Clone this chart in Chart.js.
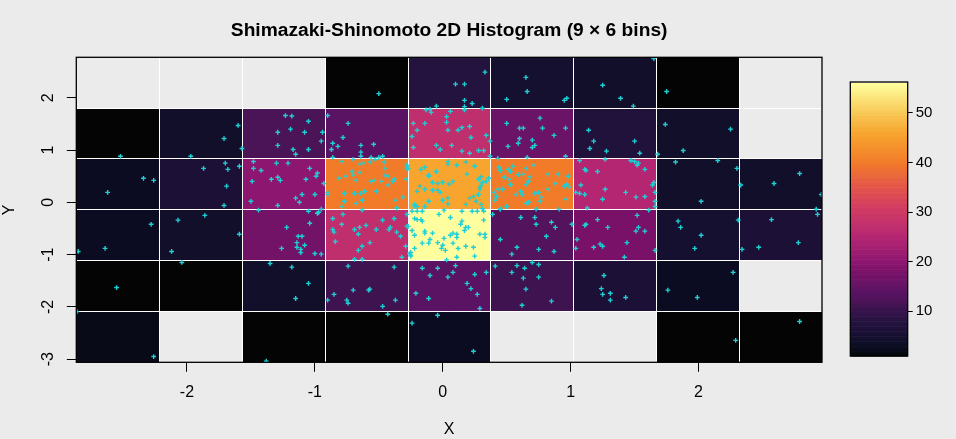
<!DOCTYPE html>
<html><head><meta charset="utf-8">
<script src="https://cdn.jsdelivr.net/npm/chart.js@4.4.1/dist/chart.umd.min.js"></script>
<style>
html,body{margin:0;padding:0;background:#ebebeb;}
#wrap{position:relative;width:956px;height:439px;overflow:hidden;}
canvas{position:absolute;left:0;top:0;}
</style></head><body>
<div id="wrap"><canvas id="main" width="956" height="439"></canvas><canvas id="cbar" width="956" height="439"></canvas></div>
<script>
// ---------- data ----------
const chartTitle = 'Shimazaki-Shinomoto 2D Histogram (9 \u00d7 6 bins)';
const xLabel = 'X';
const yLabel = 'Y';
const xEdges = [-2.865, -2.217, -1.568, -0.919, -0.270, 0.375, 1.020, 1.668, 2.317, 2.965];
const yEdges = [-3.060, -2.088, -1.115, -0.143, 0.830, 1.802, 2.774];
// bin counts, rows from bottom (lowest y) to top, columns left to right
const counts = [
  [2, 0, 1, 1, 3, 0, 0, 1, 1],
  [1, 1, 4, 11, 14, 11, 6, 3, 0],
  [3, 4, 17, 27, 56, 13, 18, 5, 6],
  [3, 6, 20, 40, 46, 40, 25, 4, 4],
  [1, 4, 12, 14, 27, 16, 7, 4, 0],
  [0, 0, 0, 1, 8, 5, 4, 1, 0]
];
const xTicks = [-2, -1, 0, 1, 2];
const yTicks = [-3, -2, -1, 0, 1, 2];
const colorbarTicks = [10, 20, 30, 40, 50];
const countRange = [1, 56];
const points = [
[-2.52,0.88],[-1.97,0.88],[-1.60,1.47],[-1.71,1.22],[-1.57,1.03],
[-1.23,1.66],[-1.18,1.65],[-1.05,1.55],[-1.29,1.34],[-1.19,1.40],[-1.08,1.34],[-0.94,1.34],[-0.95,1.17],[-1.29,1.09],[-1.17,1.01],[-1.05,1.01],[-1.15,0.92],
[-2.34,0.46],[-2.26,0.42],[-2.62,0.19],
[-1.70,0.75],[-1.87,0.65],[-1.68,0.63],[-1.59,0.69],[-1.69,0.31],[-1.71,-0.06],
[-1.48,0.78],[-1.48,0.65],[-1.42,0.61],[-1.30,0.75],[-1.21,0.75],[-1.04,0.65],[-0.98,0.56],[-0.99,0.50],[-0.93,0.36],[-1.49,0.40],[-1.34,0.44],[-1.29,0.48],[-1.27,0.42],[-1.07,0.44],[-1.00,0.15],[-1.10,0.15],[-1.15,0.08],[-1.12,0.00],[-1.50,0.02],[-1.29,-0.06],
[-0.50,2.08],[0.10,2.26],[0.17,2.26],[0.33,2.49],[0.17,1.95],[0.23,1.89],[0.17,1.83],[-0.05,1.84],[0.31,1.80],[0.65,2.39],[0.66,2.12],[0.50,1.97],[0.95,1.95],[0.97,1.99],
[-0.90,1.66],[-0.74,1.51],[-0.78,1.24],[-0.86,1.13],[-0.82,1.07],[-0.87,1.01],[-0.64,1.09],[-0.54,1.11],[-0.64,0.96],[-0.64,0.88],[-0.86,0.86],[-0.56,0.86],[-0.50,0.86],[-0.47,0.88],
[-0.13,1.77],[-0.10,1.78],[-0.09,1.72],[0.17,1.77],[0.03,1.64],[0.06,1.74],[0.03,1.53],[-0.23,1.51],[-0.14,1.51],[-0.20,1.38],[0.04,1.38],[0.12,1.38],[0.15,1.43],[0.21,1.45],[-0.24,1.26],[0.22,1.24],[0.34,1.28],[-0.23,1.05],[-0.05,1.09],[-0.02,1.01],[0.07,1.09],[0.15,0.98],[0.21,0.94],[0.28,0.99],[0.32,0.99],[0.37,1.17],[0.37,0.88],
[0.76,1.61],[0.50,1.51],[0.60,1.42],[0.63,1.42],[0.78,1.42],[0.96,1.42],[0.87,1.28],[0.60,1.22],[0.70,1.19],[0.51,1.07],[0.59,1.13],[0.72,1.09],[0.70,1.05],[0.66,0.86],[0.96,0.88],[0.43,0.84],
[-0.79,0.78],[-0.70,0.82],[-0.53,0.82],[-0.46,0.77],[-0.62,0.75],[-0.65,0.73],[-0.45,0.65],[-0.71,0.59],[-0.65,0.57],[-0.70,0.52],[-0.76,0.50],[-0.81,0.46],[-0.45,0.52],[-0.43,0.50],[-0.68,0.42],[-0.56,0.40],[-0.54,0.42],[-0.48,0.40],[-0.38,0.44],[-0.39,0.40],[-0.43,0.33],[-0.29,0.44],[-0.90,0.19],[-0.90,0.15],[-0.69,0.17],[-0.64,0.17],[-0.61,0.21],[-0.52,0.21],[-0.77,0.02],[-0.68,-0.02],[-0.63,0.04],[-0.37,0.04],[-0.31,0.10],[-0.79,-0.08],[-0.36,-0.11],[-0.28,0.71],[-0.28,0.65],[-0.77,0.17],[-0.57,0.77],
[0.04,0.78],[0.04,0.73],[0.11,0.71],[0.18,0.77],[0.25,0.69],[-0.17,0.63],[-0.14,0.67],[-0.05,0.59],[0.19,0.54],[-0.11,0.52],[-0.11,0.50],[0.28,0.44],[0.31,0.38],[0.34,0.40],[0.36,0.46],[-0.08,0.38],[-0.04,0.36],[0.00,0.38],[0.08,0.40],[-0.18,0.31],[-0.20,0.21],[-0.08,0.23],[-0.04,0.23],[-0.02,0.19],[0.29,0.29],[0.29,0.25],[0.28,0.15],[0.04,0.08],[0.00,0.04],[-0.11,0.02],[0.18,-0.04],[0.26,0.02],[0.30,-0.04],[-0.22,-0.04],[-0.14,-0.08],[0.30,0.49],[-0.14,0.25],[0.05,0.35],[0.30,0.32],[-0.22,-0.07],[-0.20,-0.08],[0.04,-0.03],[0.31,-0.12],[0.21,0.08],[0.24,0.11],[-0.27,0.65],
[0.44,0.67],[0.45,0.61],[0.55,0.69],[0.65,0.65],[0.71,0.71],[0.53,0.59],[0.48,0.48],[0.52,0.44],[0.82,0.54],[0.90,0.54],[0.98,0.50],[0.67,0.40],[0.65,0.34],[0.53,0.34],[0.88,0.36],[0.95,0.31],[0.97,0.34],[0.99,0.29],[0.43,0.25],[0.47,0.25],[0.40,0.19],[0.57,0.15],[0.61,0.21],[0.62,0.15],[0.75,0.19],[0.82,0.25],[0.42,0.11],[0.41,0.04],[0.77,0.10],[0.76,0.02],[0.65,-0.02],[0.67,0.00],[0.50,-0.08],[0.96,0.06],[0.73,-0.13],[0.91,-0.13],[0.45,-0.13],[0.59,0.53],[0.63,0.54],[0.68,0.49],[0.72,0.17],[0.51,0.63],
[1.25,2.24],[1.39,1.99],[1.49,1.84],[1.65,2.75],[1.75,2.12],
[1.14,1.38],[1.18,1.17],[1.15,1.03],[1.28,0.98],[1.50,1.17],[1.54,0.94],
[1.74,1.49],[2.25,1.40],[1.88,0.99],[1.68,0.92],
[1.07,0.80],[1.27,0.82],[1.47,0.80],[1.50,0.78],[1.53,0.75],[1.52,0.71],[1.11,0.63],[1.12,0.61],[1.21,0.59],[1.58,0.63],[1.65,0.38],[1.64,0.33],[1.08,0.33],[1.27,0.25],[1.04,0.19],[1.07,0.17],[1.11,0.15],[1.43,0.19],[1.66,0.19],[1.25,0.06],[1.51,0.10],[1.58,0.11],[1.66,0.02],[1.66,-0.08],[1.13,-0.11],
[1.82,0.77],[2.15,0.80],[2.30,0.65],[2.02,0.02],
[2.59,0.36],[2.79,0.55],[2.33,0.33],[2.96,0.15],
[-2.28,-0.42],[-2.64,-0.88],[-2.85,-0.94],
[-2.07,-0.34],[-1.86,-0.25],[-1.59,-0.61],[-2.12,-0.94],
[-1.44,-0.15],[-1.22,-0.48],[-1.05,-0.17],[-0.97,-0.19],[-0.98,-0.21],[-0.95,-0.13],[-1.04,-0.40],[-1.13,-0.65],[-1.10,-0.65],[-1.14,-0.77],[-1.08,-0.82],[-1.14,-0.86],[-1.11,-0.90],[-1.11,-0.96],[-1.26,-0.88],[-1.00,-0.98],[-0.95,-0.99],
[-2.55,-1.63],[-2.04,-1.15],[-1.35,-1.17],[-1.18,-1.24],[-1.05,-1.55],[-1.15,-1.84],
[-2.26,-2.95],[-2.86,-2.09],[-1.38,-3.04],
[-0.78,-0.23],[-0.63,-0.15],[-0.86,-0.31],[-0.79,-0.42],[-0.86,-0.52],[-0.85,-0.57],[-0.69,-0.52],[-0.65,-0.48],[-0.60,-0.44],[-0.66,-0.61],[-0.52,-0.52],[-0.47,-0.34],[-0.38,-0.31],[-0.42,-0.52],[-0.41,-0.48],[-0.36,-0.57],[-0.33,-0.65],[-0.84,-0.75],[-0.57,-0.77],[-0.63,-0.84],[-0.66,-0.92],[-0.29,-0.84],[-0.32,-1.05],[-0.69,-1.09],[-0.63,-1.09],[-0.28,-0.23],[-0.28,-0.46],
[-0.24,-0.17],[-0.20,-0.17],[-0.16,-0.17],[-0.22,-0.31],[-0.20,-0.33],[-0.17,-0.33],[-0.16,-0.36],[-0.27,-0.46],[-0.24,-0.54],[-0.22,-0.63],[-0.14,-0.55],[-0.08,-0.59],[-0.14,-0.59],[-0.10,-0.71],[-0.11,-0.78],[-0.16,-0.78],[-0.22,-0.88],[-0.25,-0.96],[-0.25,-1.01],[-0.25,-1.03],[-0.26,-0.98],[-0.04,-0.77],[-0.01,-0.88],[0.00,-0.82],[0.02,-0.92],[-0.03,-0.23],[0.01,-0.15],[0.06,-0.29],[0.15,-0.17],[0.23,-0.17],[0.27,-0.17],[0.32,-0.17],[0.15,-0.36],[0.14,-0.42],[0.17,-0.54],[0.18,-0.48],[0.20,-0.48],[0.06,-0.63],[0.08,-0.59],[0.11,-0.61],[0.11,-0.67],[0.01,-0.69],[0.08,-0.78],[0.12,-0.88],[0.18,-0.84],[0.24,-0.86],[0.29,-0.61],[0.33,-0.61],[0.33,-0.67],[0.32,-0.34],[0.25,-1.03],[0.11,-1.05],[0.03,-1.10],
[0.39,-0.23],[0.45,-0.13],[0.61,-0.29],[0.72,-0.29],[0.73,-0.42],[0.85,-0.38],[0.88,-0.48],[1.01,-0.42],[0.81,-0.65],[0.45,-0.71],[0.58,-0.86],[0.75,-0.90],[0.87,-0.94],[0.54,-0.99],
[-0.74,-1.22],[-0.38,-1.24],[-0.85,-1.76],[-0.70,-1.68],[-0.58,-1.68],[-0.57,-1.66],[-0.90,-1.87],[-0.75,-1.87],[-0.74,-1.93],[-0.47,-1.99],[-0.37,-1.87],
[-0.16,-1.26],[-0.04,-1.26],[0.10,-1.21],[-0.10,-1.40],[0.04,-1.43],[0.08,-1.34],[0.25,-1.38],[0.34,-1.34],[0.19,-1.55],[0.22,-1.65],[0.27,-1.76],[-0.21,-1.74],[-0.11,-1.84],[0.29,-2.03],
[0.41,-1.22],[0.54,-1.34],[0.58,-1.21],[0.64,-1.26],[0.70,-1.15],[0.75,-1.19],[0.63,-1.45],[0.75,-1.43],[0.65,-1.66],[0.85,-1.89],[0.62,-1.97],
[-0.43,-2.14],[-0.04,-2.16],[-0.24,-2.31],[0.24,-2.85],
[1.21,-0.33],[1.12,-0.42],[1.11,-0.44],[1.29,-0.48],[1.52,-0.25],[1.61,-0.15],[1.53,-0.48],[1.51,-0.55],[1.58,-0.55],[1.05,-0.71],[1.44,-0.77],[1.23,-0.80],[1.25,-0.84],[1.18,-0.86],[1.04,-0.88],[1.66,-0.92],[1.42,-1.05],
[1.84,-0.36],[1.86,-0.48],[2.02,-0.63],[1.97,-0.88],[2.31,-0.34],
[2.57,-0.33],[2.78,-0.77],[2.47,-0.86],[2.34,-0.90],[2.93,-0.23],[2.92,-0.13],
[1.26,-1.40],[1.24,-1.65],[1.25,-1.76],[1.31,-1.74],[1.31,-1.87],[1.43,-1.82],
[2.27,-1.34],[1.76,-1.68],[1.99,-1.82],
[2.29,-2.64],[2.79,-2.28]
];

// ---------- style ----------
const FONT = "'Liberation Sans', Arial, Helvetica, sans-serif";
const POINT_COLOR = '#1fcfd4';
const PALETTE = [
  [0.000,'#040404'],[0.018,'#080a18'],[0.036,'#0b0c21'],[0.055,'#110f2a'],[0.073,'#150f30'],
  [0.091,'#1c1036'],[0.127,'#24133f'],[0.182,'#3e1350'],[0.200,'#4b1457'],[0.236,'#5a1362'],
  [0.273,'#6b1467'],[0.309,'#7a1169'],[0.345,'#8d1670'],[0.436,'#b42672'],[0.473,'#bf2f6e'],
  [0.545,'#d23c62'],[0.618,'#e3544a'],[0.709,'#f27b2a'],[0.818,'#f7a52e'],[0.891,'#f8c855'],[1.000,'#fefe9e']
];
function hexRgb(h){return [parseInt(h.slice(1,3),16),parseInt(h.slice(3,5),16),parseInt(h.slice(5,7),16)];}
function colorFor(v){
  let t=(v-countRange[0])/(countRange[1]-countRange[0]);
  t=Math.max(0,Math.min(1,t));
  for(let i=1;i<PALETTE.length;i++){
    if(t<=PALETTE[i][0]){
      const [t0,c0]=PALETTE[i-1],[t1,c1]=PALETTE[i];
      const f=(t-t0)/(t1-t0), a=hexRgb(c0), b=hexRgb(c1);
      return 'rgb('+a.map((x,k)=>Math.round(x+(b[k]-x)*f)).join(',')+')';
    }
  }
  return PALETTE[PALETTE.length-1][1];
}
const snap = p => Math.floor(p) + 0.5;

Chart.defaults.font.family = FONT;
Chart.defaults.color = '#000';

const heatPlugin = {
  id:'heat',
  beforeDatasetsDraw(chart){
    const {ctx, chartArea:a, scales:{x,y}} = chart;
    ctx.save();
    ctx.beginPath(); ctx.rect(a.left,a.top,a.width,a.height); ctx.clip();
    counts.forEach((row,j)=>row.forEach((c,i)=>{
      if(c<=0) return;
      const x0=Math.floor(x.getPixelForValue(xEdges[i])), x1=Math.ceil(x.getPixelForValue(xEdges[i+1]));
      const y0=Math.floor(y.getPixelForValue(yEdges[j+1])), y1=Math.ceil(y.getPixelForValue(yEdges[j]));
      ctx.fillStyle=colorFor(c);
      ctx.fillRect(x0,y0,x1-x0,y1-y0);
    }));
    ctx.strokeStyle='#ffffff'; ctx.lineWidth=1;
    ctx.beginPath();
    xEdges.slice(1,-1).forEach(v=>{const p=snap(x.getPixelForValue(v)); ctx.moveTo(p,a.top); ctx.lineTo(p,a.bottom);});
    yEdges.slice(1,-1).forEach(v=>{const p=snap(y.getPixelForValue(v)); ctx.moveTo(a.left,p); ctx.lineTo(a.right,p);});
    ctx.stroke();
    ctx.restore();
  },
  afterDatasetsDraw(chart){
    const {ctx, chartArea:a} = chart;
    ctx.save(); ctx.strokeStyle='#000'; ctx.lineWidth=1.3;
    ctx.strokeRect(a.left,a.top,a.width,a.height);
    ctx.restore();
  }
};

new Chart(document.getElementById('main'),{
  type:'scatter',
  data:{datasets:[{
    data:points.map(p=>({x:p[0],y:p[1]})),
    pointStyle:'cross', pointRadius:2.4, borderWidth:1.4,
    borderColor:POINT_COLOR, backgroundColor:POINT_COLOR
  }]},
  options:{
    responsive:false, animation:false, events:[],
    layout:{padding:{left:0,right:134,top:0,bottom:0}},
    plugins:{
      legend:{display:false}, tooltip:{enabled:false},
      title:{display:true, fullSize:false, text:chartTitle, color:'#000',
        font:{size:19.2, weight:'bold', family:FONT, lineHeight:1.2},
        padding:{top:19.3, bottom:14.96}}
    },
    scales:{
      x:{type:'linear', min:xEdges[0], max:xEdges[xEdges.length-1],
        afterBuildTicks:s=>{s.ticks=xTicks.map(v=>({value:v}));},
        afterFit:s=>{s.height=76.7;},
        grid:{drawOnChartArea:false, drawTicks:true, tickLength:9.5, tickColor:'#000', lineWidth:1},
        border:{display:false},
        ticks:{color:'#000', font:{size:16,family:FONT}, padding:11, maxRotation:0, minRotation:0, autoSkip:false},
        title:{display:true, text:xLabel, color:'#000', font:{size:16,family:FONT}, padding:{top:0,bottom:0}}
      },
      y:{type:'linear', min:yEdges[0], max:yEdges[yEdges.length-1],
        afterBuildTicks:s=>{s.ticks=yTicks.map(v=>({value:v}));},
        afterFit:s=>{s.width=76.3;},
        grid:{drawOnChartArea:false, drawTicks:true, tickLength:9.5, tickColor:'#000', lineWidth:1},
        border:{display:false},
        ticks:{color:'#000', font:{size:16,family:FONT}, padding:11, minRotation:90, maxRotation:90, crossAlign:'center', autoSkip:false},
        title:{display:true, text:yLabel, color:'#000', font:{size:16,family:FONT}, padding:{top:0.4,bottom:0}}
      }
    }
  },
  plugins:[heatPlugin]
});

const colorbarPlugin = {
  id:'colorbar',
  beforeDatasetsDraw(chart){
    const {ctx, chartArea:a, scales:{y}} = chart;
    const n=110, lo=countRange[0], hi=countRange[1];
    ctx.save();
    for(let k=0;k<n;k++){
      const v0=lo+(hi-lo)*k/n, v1=lo+(hi-lo)*(k+1)/n;
      const p0=y.getPixelForValue(v0), p1=y.getPixelForValue(v1);
      ctx.fillStyle=colorFor((v0+v1)/2);
      ctx.fillRect(a.left,p1,a.width,p0-p1+0.6);
    }
    ctx.strokeStyle='#000'; ctx.lineWidth=1.3;
    ctx.strokeRect(a.left,a.top-1,a.width,a.height+1);
    ctx.restore();
  }
};

new Chart(document.getElementById('cbar'),{
  type:'scatter',
  data:{datasets:[{data:[]}]},
  options:{
    responsive:false, animation:false, events:[],
    layout:{padding:{left:850.3,right:0,top:83,bottom:83}},
    plugins:{legend:{display:false}, tooltip:{enabled:false}, title:{display:false}},
    scales:{
      x:{display:false, min:0, max:1},
      y:{type:'linear', position:'right', min:countRange[0], max:countRange[1],
        afterBuildTicks:s=>{s.ticks=colorbarTicks.map(v=>({value:v}));},
        afterFit:s=>{s.width=48.3;},
        grid:{drawOnChartArea:false, drawTicks:true, tickLength:5, tickColor:'#000', lineWidth:1},
        border:{display:false},
        ticks:{color:'#000', font:{size:15,family:FONT}, padding:3, autoSkip:false}
      }
    }
  },
  plugins:[colorbarPlugin]
});
</script>
</body></html>
